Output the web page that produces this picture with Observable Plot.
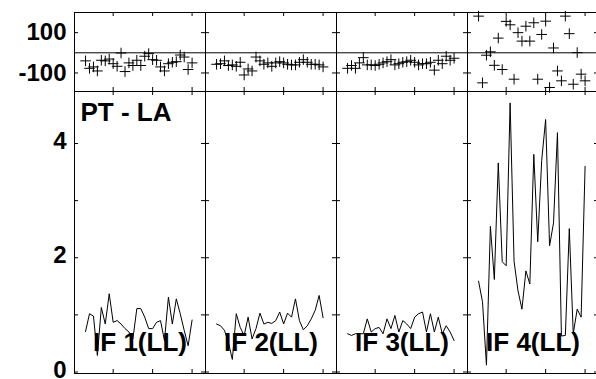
<!DOCTYPE html>
<html><head><meta charset="utf-8">
<script src="https://cdn.jsdelivr.net/npm/d3@7"></script>
<script src="https://cdn.jsdelivr.net/npm/@observablehq/plot@0.6"></script>
<style>
html,body{margin:0;padding:0;background:#fff;}
#chart{position:relative;width:596px;height:379px;overflow:hidden;background:#fff;}
#chart svg{position:absolute;left:0;top:0;}
</style></head><body><div id="chart"></div>
<script>
// ---- data ----
const facets = ["IF 1", "IF 2", "IF 3", "IF 4"];
const panelLabels = ["IF 1(LL)", "IF 2(LL)", "IF 3(LL)", "IF 4(LL)"];
const baselineLabel = "PT - LA";
const sampleIndex = [0,1,2,3,4,5,6,7,8,9,10,11,12,13,14,15,16,17,18,19,20,21,22,23,24,25,26,27];

const phase1 = [-40,-77,-70,-90,-37,-40,-31,-54,-67,-1,-93,-50,-63,-37,-63,-17,-4,-34,-37,-70,-90,-54,-47,-44,-11,-21,-83,-50];
const phase2 = [-57,-54,-40,-63,-60,-67,-47,-110,-80,-90,-21,-40,-57,-50,-67,-50,-44,-50,-57,-60,-60,-47,-34,-47,-57,-57,-60,-70];
const phase3 = [-77,-63,-77,-50,-24,-60,-60,-63,-57,-50,-44,-34,-60,-54,-47,-44,-37,-47,-60,-54,-54,-47,-86,-37,-54,-17,-37,-27];
const phase4 = [182,-149,-12,5,-62,73,-83,156,139,-131,100,58,132,58,149,-131,91,157,-172,24,-90,-139,182,95,-156,1,-106,-139];

const amp1 = [0.71,1.02,0.98,0.29,1.13,0.84,1.37,0.87,0.90,0.84,0.76,0.70,0.58,1.11,1.11,0.96,0.76,0.76,0.87,0.90,0.55,1.31,0.84,1.28,1.02,0.73,0.46,0.91];
const amp2 = [0.84,0.81,0.73,0.52,0.22,1.02,0.78,0.64,0.96,0.58,0.76,1.03,0.84,0.87,0.85,0.90,1.05,0.84,1.03,0.96,1.28,0.90,0.74,0.81,0.93,1.08,1.34,0.95];
const amp3 = [0.67,0.64,0.67,0.67,0.67,0.93,0.70,0.76,0.78,0.67,0.93,0.76,0.99,0.70,0.90,0.84,0.76,0.96,1.02,1.05,0.70,1.02,0.70,0.96,0.67,0.81,0.70,0.55];
const amp4 = [1.59,1.23,0.12,2.55,1.62,3.66,1.93,1.86,4.71,1.94,1.42,1.10,1.77,1.54,3.81,2.28,3.70,4.42,2.21,2.61,4.19,0.63,0.64,2.51,0.67,1.10,0.96,3.60];

const xTicks = [7, 17, 27];
const phaseTicks = [-100, 100];
const phaseTickLabels = ["-100", "100"];
const ampTicks = [0, 1, 2, 3, 4];
const ampLabelTicks = [0, 2, 4];
const ampTickLabels = ["0", "2", "4"];

// ---- tables built from the arrays ----
const phases = [phase1, phase2, phase3, phase4];
const amps = [amp1, amp2, amp3, amp4];
const rows = [];
facets.forEach((f, k) => sampleIndex.forEach((s, i) => rows.push({facet: f, i: s, phase: phases[k][i], amp: amps[k][i]})));
const labelRows = facets.map((f, k) => ({facet: f, text: panelLabels[k]}));
const phaseLabelRows = phaseTicks.map((v, k) => ({facet: facets[0], v, text: phaseTickLabels[k]}));
const ampLabelRows = ampLabelTicks.map((v, k) => ({facet: facets[0], v, text: ampTickLabels[k]}));

const FONT = "'Liberation Sans', Arial, Helvetica, sans-serif";
const W = 600, H = 379, ML = 74, MR = 2, TICK = 4;
const style = {background: "transparent", maxWidth: "none", overflow: "visible", fontFamily: FONT};
const common = {
  width: W, height: H, marginLeft: ML, marginRight: MR, style,
  x: {domain: [-2.8, 30.4], axis: null},
  fx: {domain: facets, padding: 0, axis: null}
};

// top row (phase)
const topTop = 12, topBottom = 91;
const topInner = topBottom - topTop;
const topPlot = Plot.plot({
  ...common,
  marginTop: topTop, marginBottom: H - topBottom,
  y: {domain: [-192, 200], axis: null},
  marks: [
    Plot.ruleY([0], {stroke: "black", strokeWidth: 1}),
    Plot.tickX(xTicks, {x: d => d, insetBottom: topInner - TICK, stroke: "black"}),
    Plot.tickX(xTicks, {x: d => d, insetTop: topInner - TICK, stroke: "black"}),
    Plot.tickY(phaseTicks, {y: d => d, insetRight: 131 - TICK, stroke: "black"}),
    Plot.tickY(phaseTicks, {y: d => d, insetLeft: 131 - TICK, stroke: "black"}),
    Plot.dot(rows, {x: "i", y: "phase", fx: "facet", symbol: "plus", r: 3.5, stroke: "black", strokeWidth: 1}),
    Plot.text(phaseLabelRows, {fx: "facet", y: "v", text: "text", frameAnchor: "left", textAnchor: "end", dx: -8,
      fontSize: 24, fontWeight: "bold", fontFamily: FONT, fill: "black"}),
    Plot.frame({stroke: "black", strokeWidth: 1})
  ]
});

// bottom row (amplitude)
const botTop = 91, botBottom = 373;
const botInner = botBottom - botTop;
const botPlot = Plot.plot({
  ...common,
  marginTop: botTop, marginBottom: H - botBottom,
  y: {domain: [-0.026, 4.91], axis: null},
  marks: [
    Plot.tickX(xTicks, {x: d => d, insetBottom: botInner - TICK, stroke: "black"}),
    Plot.tickX(xTicks, {x: d => d, insetTop: botInner - TICK, stroke: "black"}),
    Plot.tickY(ampTicks, {y: d => d, insetRight: 131 - TICK, stroke: "black"}),
    Plot.tickY(ampTicks, {y: d => d, insetLeft: 131 - TICK, stroke: "black"}),
    Plot.line(rows, {x: "i", y: "amp", fx: "facet", stroke: "black", strokeWidth: 1}),
    Plot.text(labelRows, {fx: "facet", text: "text", frameAnchor: "bottom", lineAnchor: "bottom", dy: -23,
      fontSize: 26, fontWeight: "bold", fontFamily: FONT, fill: "black"}),
    Plot.text([{facet: facets[0], text: baselineLabel}], {fx: "facet", text: "text", frameAnchor: "top-left", textAnchor: "start",
      lineAnchor: "bottom", dx: 6, dy: 29, fontSize: 26, fontWeight: "bold", fontFamily: FONT, fill: "black"}),
    Plot.text(ampLabelRows, {fx: "facet", y: "v", text: "text", frameAnchor: "left", textAnchor: "end", dx: -8, dy: -2,
      fontSize: 24, fontWeight: "bold", fontFamily: FONT, fill: "black"}),
    Plot.frame({stroke: "black", strokeWidth: 1})
  ]
});

const chart = document.getElementById("chart");
chart.appendChild(topPlot);
chart.appendChild(botPlot);
</script>
</body></html>
